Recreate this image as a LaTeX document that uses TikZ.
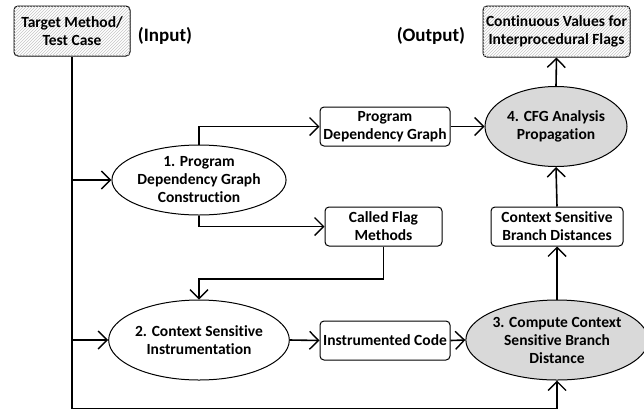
\documentclass[tikz,border=0pt]{standalone}
\usepackage{fontspec}
\setmainfont{Carlito}[Ligatures=NoCommon]
\usetikzlibrary{shapes.geometric,arrows.meta,patterns}
\begin{document}
\begin{tikzpicture}[x=1pt,y=-1pt,
  txt/.style={font=\bfseries\fontsize{15.5}{18}\selectfont, align=center, text=black},
  box/.style={txt, draw, line width=1pt, rounded corners=4pt, inner sep=0pt, fill=white},
  hbox/.style={box, postaction={pattern=north east lines, pattern color=gray!45}},
  ell/.style={txt, draw, ellipse, line width=1pt, inner sep=0pt, fill=white},
  gell/.style={ell, fill=black!15},
  conn/.style={line width=1.6pt, -{Straight Barb[length=9pt,width=18pt,line width=1.4pt]}},
  lbl/.style={font=\bfseries\fontsize{19}{22}\selectfont}
]
\useasboundingbox (0,0) rectangle (644,408);
% nodes
\node[hbox, minimum width=116pt, minimum height=50pt] (tgt) at (72,31) {Target Method/\\Test Case};
\node[lbl] (inp) at (165,36) {(Input)};
\node[lbl] (outl) at (431,36) {(Output)};
\node[hbox, minimum width=147pt, minimum height=51pt] (out) at (556.5,31.5) {Continuous Values for\\Interprocedural Flags};
\node[ell, minimum width=142pt, minimum height=70pt] (n1) at (199,180) {1. Program\\Dependency Graph\\Construction};
\node[box, minimum width=130pt, minimum height=39pt] (pdg) at (385,126.5) {Program\\Dependency Graph};
\node[gell, minimum width=142pt, minimum height=80pt] (n4) at (556,126.5) {4. CFG Analysis\\Propagation};
\node[box, minimum width=117pt, minimum height=39pt] (cfm) at (383.5,226.5) {Called Flag\\Methods};
\node[box, minimum width=132pt, minimum height=39pt] (csbd) at (557,226.5) {Context Sensitive\\Branch Distances};
\node[ell, minimum width=154pt, minimum height=80pt] (n2) at (199,340) {2. Context Sensitive\\Instrumentation};
\node[box, minimum width=130pt, minimum height=39pt] (ic) at (385,340.5) {Instrumented Code};
\node[gell, minimum width=166pt, minimum height=80pt] (n3) at (557,340) {3. Compute Context\\Sensitive Branch\\Distance};
% helper coordinates
\coordinate (v1) at (72,180);
\coordinate (v2) at (72,340);
\coordinate (vb) at (72,408.8);
\coordinate (cfmb) at (383.5,279);
% connectors
\draw[conn] (tgt.south) -- (vb) -| (n3.south);
\draw[conn] (v1) -- (n1.west);
\draw[conn] (v2) -- (n2.west);
\draw[conn] (n1.north) |- (pdg.west);
\draw[conn] (n1.south) |- (cfm.west);
\draw[conn] (pdg.east) -- (n4.west);
\draw[conn] (n4.north) -- (out.south);
\draw[conn] (cfm.south) -- (cfmb) -| (n2.north);
\draw[conn] (n2.east) -- (ic.west);
\draw[conn] (ic.east) -- (n3.west);
\draw[conn] (n3.north) -- (csbd.south);
\draw[conn] (csbd.north) -- (n4.south);
\end{tikzpicture}
\end{document}
